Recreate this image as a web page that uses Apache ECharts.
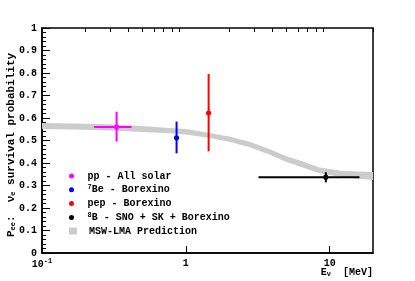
<!DOCTYPE html>
<html><head><meta charset="utf-8">
<script src="https://cdn.jsdelivr.net/npm/echarts@6/dist/echarts.min.js"></script>
<style>html,body{margin:0;padding:0;background:#fff}#c{width:415px;height:281px}</style>
</head><body><div id="c"></div>
<script>
// data: [x, y, xLow, xHigh, yLow, yHigh]
const ppData  = [[0.33, 0.560, 0.23, 0.42, 0.495, 0.628]];
const be7Data = [[0.862, 0.512, 0.862, 0.862, 0.443, 0.584]];
const pepData = [[1.44, 0.622, 1.44, 1.44, 0.452, 0.796]];
const b8Data  = [[9.4, 0.337, 3.2, 16.1, 0.314, 0.359]];
// MSW-LMA band
const bandX  = [0.1, 0.2, 0.3, 0.5, 0.775, 1.0, 1.43, 2.0, 2.78, 3.8, 5.0, 6.5, 8.5, 12, 16, 20];
const bandLo = [0.551, 0.548, 0.545, 0.538, 0.532, 0.527, 0.512, 0.494, 0.470, 0.438, 0.405, 0.380, 0.355, 0.338, 0.330, 0.325];
const bandHi = [0.578, 0.575, 0.572, 0.565, 0.556, 0.551, 0.535, 0.518, 0.494, 0.462, 0.430, 0.407, 0.380, 0.366, 0.362, 0.360];
const xMajorTicks = [1, 10];
const xMinorTicks = [0.2,0.3,0.4,0.5,0.6,0.7,0.8,0.9,2,3,4,5,6,7,8,9,20];
const xLabels = [0.1, 1, 10];

const FONT = 'Liberation Mono';
const chart = echarts.init(document.getElementById('c'), null, {renderer:'canvas'});

function errSeries(name, data, color){
  return {
    type:'custom', name, data, itemStyle:{color}, encode:{x:0,y:1},
    renderItem(params, api){
      const x=api.value(0), y=api.value(1);
      const c=api.coord([x,y]);
      const a=api.coord([api.value(2),y]), b=api.coord([api.value(3),y]);
      const lo=api.coord([x,api.value(4)]), hi=api.coord([x,api.value(5)]);
      const st={stroke:color, lineWidth:2};
      const ch=[];
      if (Math.abs(b[0]-a[0])>0.5) ch.push({type:'line', shape:{x1:a[0],y1:a[1],x2:b[0],y2:b[1]}, style:st});
      ch.push({type:'line', shape:{x1:lo[0],y1:lo[1],x2:hi[0],y2:hi[1]}, style:st});
      ch.push({type:'circle', shape:{cx:c[0],cy:c[1],r:2.6}, style:{fill:color}});
      return {type:'group', children:ch};
    }
  };
}

const option = {
  animation:false,
  grid:{left:42, right:42, top:28, bottom:28, show:true, borderColor:'#000', borderWidth:1.5, backgroundColor:'transparent'},
  xAxis:[{
    type:'log', logBase:10, min:0.1, max:20,
    axisLine:{lineStyle:{color:'#000', width:1.5}},
    axisTick:{inside:true, length:7, customValues:xMajorTicks, lineStyle:{color:'#000'}},
    axisLabel:{customValues:xLabels, margin:5, color:'#000', fontFamily:FONT, fontWeight:'bold', fontSize:10,
      formatter:v => v < 0.5 ? '{b|10}{s|-1}' : String(Math.round(v)),
      rich:{b:{fontFamily:FONT, fontWeight:'bold', fontSize:10, color:'#000'}, s:{fontFamily:FONT, fontWeight:'bold', fontSize:7, color:'#000', verticalAlign:'top', padding:[0,0,5,0]}}},
    splitLine:{show:false}, minorTick:{show:false}
  },{
    type:'log', logBase:10, min:0.1, max:20,
    axisLine:{show:false},
    axisTick:{inside:true, length:4, customValues:xMinorTicks, lineStyle:{color:'#000'}},
    axisLabel:{show:false}, splitLine:{show:false}
  }],
  yAxis:{
    type:'value', min:0, max:1, interval:0.1,
    axisLine:{show:true, lineStyle:{color:'#000', width:1.5}},
    axisTick:{show:true, inside:true, length:8, lineStyle:{color:'#000'}},
    minorTick:{show:true, splitNumber:5, length:4, lineStyle:{color:'#000'}},
    axisLabel:{margin:5, color:'#000', fontFamily:FONT, fontWeight:'bold', fontSize:10},
    splitLine:{show:false}
  },
  legend:[{
    orient:'vertical', left:64, top:165, itemWidth:22, itemHeight:5, itemGap:1.8,
    data:[{name:'pp',icon:'circle'},{name:'7Be',icon:'circle'},{name:'pep',icon:'circle'},{name:'8B',icon:'circle'}],
    textStyle:{fontFamily:FONT, fontWeight:'bold', fontSize:10, color:'#000', lineHeight:12,
      rich:{t:{fontFamily:FONT, fontWeight:'bold', fontSize:10, color:'#000', lineHeight:12},
            s:{fontFamily:FONT, fontWeight:'bold', fontSize:7, color:'#000', verticalAlign:'top', lineHeight:6, padding:[0,0,4,0]}}},
    formatter:n => ({pp:'{t|pp - All solar}', '7Be':'{s|7}{t|Be - Borexino}', pep:'{t|pep - Borexino}', '8B':'{s|8}{t|B - SNO + SK + Borexino}'})[n]
  },{
    orient:'vertical', left:64, top:221, itemWidth:22, itemHeight:7,
    data:[{name:'MSW-LMA Prediction', icon:'path://M0,0L8,0L8,7L0,7Z'}],
    textStyle:{fontFamily:FONT, fontWeight:'bold', fontSize:10, color:'#000'}
  }],
  graphic:[
    {type:'text', x:11, y:145, rotation:Math.PI/2, style:{text:'P{s|ee}:  ν{s|e} survival probability', fill:'#000', font:'bold 11px "Liberation Mono"', align:'center', verticalAlign:'middle',
      rich:{s:{font:'bold 7px "Liberation Mono"', fill:'#000', verticalAlign:'bottom', padding:[4,0,0,0]}}}},
    {type:'text', right:42, top:267, style:{text:'E{s|ν}  [MeV]', fill:'#000', font:'bold 10px "Liberation Mono"',
      rich:{s:{font:'bold 7px "Liberation Mono"', fill:'#000', verticalAlign:'bottom', padding:[4,0,0,0]}}}}
  ],
  series:[
    {type:'custom', name:'MSW-LMA Prediction', itemStyle:{color:'#cccccc'}, data:[[1,0.5]], encode:{x:0,y:1}, z:1,
      renderItem(params, api){
        const pts=[];
        for (let i=0;i<bandX.length;i++) pts.push(api.coord([bandX[i], bandHi[i]]));
        for (let i=bandX.length-1;i>=0;i--) pts.push(api.coord([bandX[i], bandLo[i]]));
        return {type:'polygon', shape:{points:pts, smooth:0}, style:{fill:'#cccccc'}};
      }},
    errSeries('pp', ppData, '#ff00ff'),
    errSeries('7Be', be7Data, '#0000ff'),
    errSeries('pep', pepData, '#ff0000'),
    errSeries('8B', b8Data, '#000000')
  ]
};
chart.setOption(option);
</script></body></html>
